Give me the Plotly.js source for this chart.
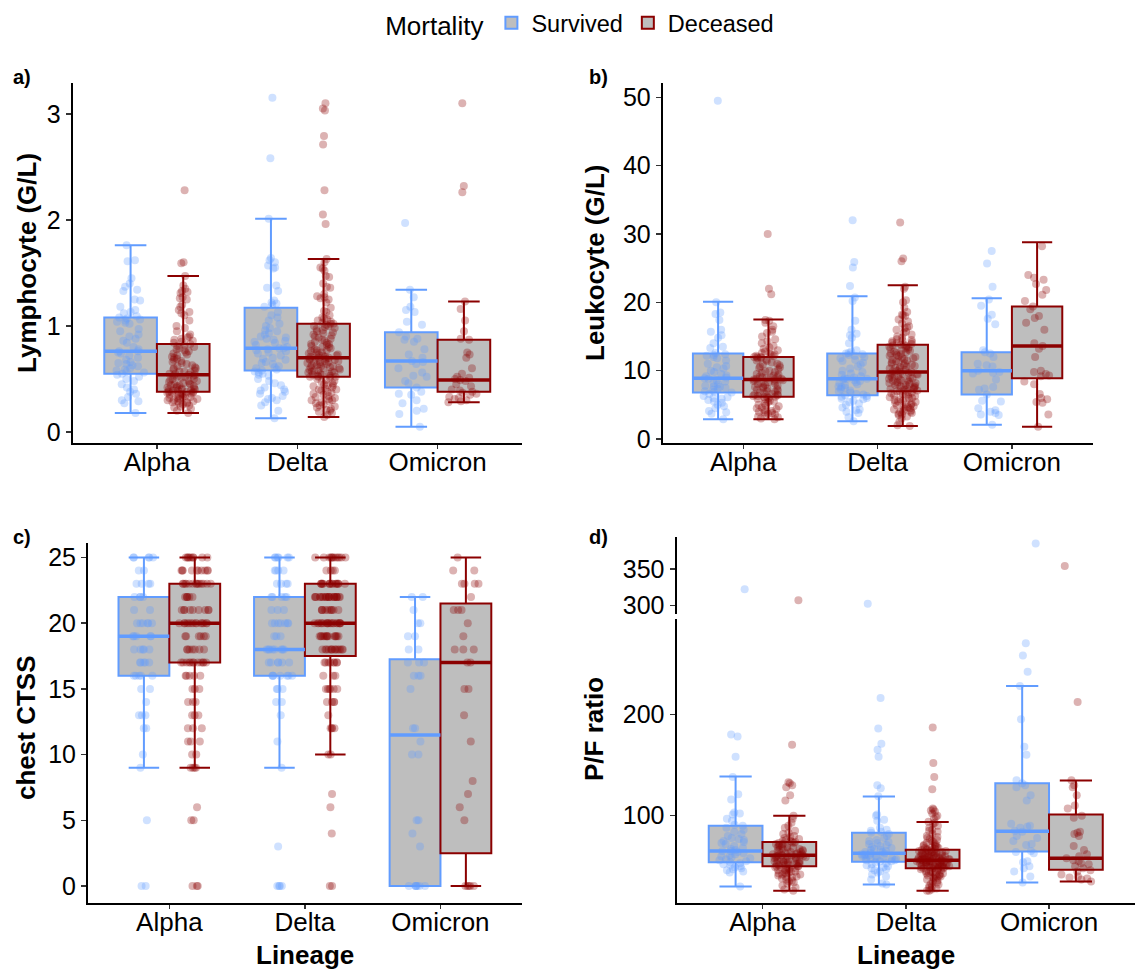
<!DOCTYPE html>
<html>
<head>
<meta charset="utf-8">
<script src="https://cdn.plot.ly/plotly-3.0.1.min.js"></script>
<style>html,body{margin:0;padding:0;background:#fff}#chart{width:1144px;height:973px}</style>
</head>
<body>
<div id="chart"></div>
<script>
// ---------------- DATA ----------------
const categories = ['Alpha', 'Delta', 'Omicron'];
const groups = ['Survived', 'Deceased'];

// Box statistics per lineage (Alpha, Delta, Omicron)
const lymSurvStats = {lower:[0.18,0.13,0.05], q1:[0.55,0.58,0.42], median:[0.76,0.79,0.67], q3:[1.08,1.17,0.94], upper:[1.76,2.01,1.34]};
const lymDecStats  = {lower:[0.18,0.14,0.28], q1:[0.38,0.52,0.38], median:[0.54,0.70,0.49], q3:[0.83,1.02,0.87], upper:[1.47,1.63,1.23]};
const leuSurvStats = {lower:[2.9,2.6,2.1], q1:[6.8,6.4,6.5], median:[8.9,8.8,10.0], q3:[12.5,12.5,12.7], upper:[20.1,20.9,20.6]};
const leuDecStats  = {lower:[2.9,1.9,1.8], q1:[6.2,7.0,8.9], median:[8.7,9.8,13.6], q3:[12.0,13.8,19.4], upper:[17.5,22.5,28.8]};
const ctSurvStats  = {lower:[9,9,0], q1:[16,16,0], median:[19,18,11.5], q3:[22,22,17.25], upper:[25,25,22]};
const ctDecStats   = {lower:[9,10,0], q1:[17,17.5,2.5], median:[20,20,17], q3:[23,23,21.5], upper:[25,25,25]};
const pfSurvStats  = {lower:[30,32,34], q1:[54,54.6,64.5], median:[65,63,84.6], q3:[90,83,132], upper:[138.5,118.8,228]};
const pfDecStats   = {lower:[26,26,35], q1:[50,48,46.7], median:[61,56,58], q3:[74,66.4,101], upper:[100,93.8,134.6]};

const lymAlphaS = [1.76,1.62,1.61,1.45,1.40,1.37,1.34,1.33,1.25,1.24,1.18,1.15,1.13,1.12,1.09,1.08,1.07,1.06,1.05,1.04,1.03,1.02,0.97,0.95,0.92,0.90,0.88,0.86,0.84,0.80,0.78,0.76,0.76,0.75,0.74,0.72,0.70,0.68,0.66,0.65,0.64,0.63,0.62,0.60,0.59,0.58,0.57,0.56,0.55,0.54,0.52,0.50,0.48,0.45,0.42,0.40,0.38,0.36,0.33,0.30,0.29,0.27,0.18];
const lymAlphaD = [2.28,1.60,1.59,1.47,1.38,1.35,1.33,1.32,1.31,1.27,1.26,1.25,1.20,1.18,1.15,1.13,1.12,1.10,1.05,1.00,0.98,0.95,0.92,0.90,0.89,0.88,0.87,0.86,0.85,0.84,0.83,
  0.82,0.81,0.80,0.79,0.78,0.77,0.76,0.75,0.74,0.73,0.72,0.71,0.70,0.69,0.68,0.67,0.66,0.65,0.64,0.63,0.62,0.61,0.60,0.60,0.59,0.58,0.57,0.57,0.56,0.55,0.55,0.54,
  0.54,0.53,0.53,0.52,0.52,0.51,0.50,0.50,0.49,0.48,0.48,0.47,0.46,0.46,0.45,0.45,0.44,0.44,0.43,0.43,0.42,0.42,0.41,0.41,0.40,0.40,0.40,0.39,0.39,0.39,0.38,0.38,
  0.38,0.37,0.37,0.37,0.36,0.36,0.36,0.35,0.35,0.34,0.34,0.33,0.33,0.32,0.32,0.31,0.31,0.30,0.30,0.29,0.29,0.28,0.28,0.27,0.27,0.26,0.25,0.24,0.23,0.22,0.20,0.18];
const lymDeltaS = [3.15,2.58,2.01,1.64,1.62,1.60,1.57,1.55,1.54,1.38,1.36,1.33,1.24,1.22,1.21,1.20,1.18,1.13,1.10,1.08,1.05,1.02,1.00,0.98,0.96,0.95,0.93,0.92,0.90,0.89,0.88,0.87,0.86,0.85,0.84,0.82,0.80,0.79,0.79,0.78,0.77,0.76,0.75,0.74,0.72,0.70,0.69,0.68,0.66,0.65,0.64,0.62,0.61,0.60,0.59,0.58,0.57,0.56,0.55,0.54,0.53,0.50,0.48,0.46,0.44,0.42,0.40,0.39,0.38,0.36,0.34,0.32,0.31,0.30,0.28,0.25,0.20,0.13];
const lymDeltaD = [3.10,3.05,3.03,2.79,2.71,2.28,2.05,1.96,1.63,1.60,1.55,1.54,1.52,1.47,1.46,1.40,1.37,1.36,1.30,1.28,1.27,1.26,1.25,1.22,1.17,1.14,1.13,1.10,1.08,1.07,1.06,1.05,1.04,1.03,1.02,1.02,1.01,
  1.00,1.00,0.99,0.98,0.97,0.96,0.95,0.94,0.93,0.92,0.91,0.90,0.89,0.88,0.87,0.86,0.85,0.84,0.83,0.83,0.82,0.81,0.80,0.80,0.79,0.78,0.77,0.77,0.76,0.75,0.75,0.74,0.73,0.73,0.72,0.72,0.71,0.71,0.70,0.70,
  0.70,0.69,0.69,0.68,0.68,0.67,0.67,0.66,0.66,0.65,0.65,0.64,0.64,0.63,0.63,0.62,0.62,0.61,0.61,0.60,0.60,0.59,0.59,0.58,0.58,0.57,0.57,0.56,0.56,0.55,0.55,0.54,0.54,0.53,0.53,0.52,0.52,
  0.52,0.51,0.50,0.49,0.48,0.47,0.46,0.45,0.44,0.44,0.43,0.42,0.41,0.40,0.40,0.39,0.38,0.37,0.36,0.35,0.34,0.33,0.32,0.31,0.30,0.30,0.29,0.28,0.27,0.26,0.25,0.24,0.23,0.22,0.21,0.20,0.19,0.18,0.16,0.14];
const lymOmicronS = [1.97,1.34,1.27,1.18,1.15,1.13,1.04,1.01,0.94,0.90,0.88,0.87,0.85,0.78,0.73,0.70,0.67,0.66,0.64,0.60,0.56,0.53,0.52,0.48,0.46,0.42,0.38,0.36,0.35,0.30,0.27,0.22,0.20,0.17,0.05];
const lymOmicronD = [3.10,2.32,2.26,1.23,1.16,1.05,0.95,0.88,0.87,0.75,0.73,0.70,0.60,0.55,0.52,0.51,0.50,0.49,0.48,0.45,0.43,0.40,0.39,0.38,0.37,0.36,0.35,0.33,0.32,0.31,0.30,0.29,0.28];

const leuAlphaS = [49.5,20.0,18.5,18.3,17.4,16.0,15.7,15.2,14.8,14.0,13.5,13.3,12.6,12.4,12.3,12.2,12.0,11.8,11.5,11.0,10.7,10.5,10.3,10.0,9.8,9.5,9.3,9.2,9.0,8.9,8.8,8.6,8.4,8.2,8.0,7.8,7.7,7.6,7.5,7.3,7.2,7.0,6.9,6.8,6.6,6.3,6.1,6.0,5.9,5.7,5.5,5.3,5.0,4.8,4.5,4.1,3.9,3.7,2.9];
const leuAlphaD = [30.0,22.0,21.2,17.4,17.3,17.0,16.5,16.0,15.7,15.5,15.0,14.6,14.3,14.0,13.6,13.4,13.2,13.0,12.8,12.6,12.5,12.4,12.3,12.2,12.1,12.0,12.0,12.0,
  11.9,11.8,11.6,11.5,11.4,11.2,11.0,10.9,10.8,10.6,10.5,10.4,10.2,10.0,9.9,9.8,9.7,9.5,9.4,9.3,9.2,9.1,9.0,9.0,8.9,8.8,8.8,8.7,8.7,
  8.6,8.5,8.4,8.3,8.2,8.1,8.0,7.9,7.8,7.7,7.6,7.5,7.4,7.3,7.2,7.1,7.0,6.9,6.8,6.7,6.6,6.5,6.5,6.4,6.3,6.3,6.2,6.2,
  6.1,6.0,5.9,5.8,5.6,5.5,5.4,5.2,5.0,4.9,4.8,4.6,4.5,4.4,4.2,4.1,4.0,3.9,3.8,3.7,3.6,3.5,3.3,3.2,3.0,2.9];
const leuDeltaS = [32.0,25.9,25.1,22.4,20.7,20.2,17.3,16.0,15.4,15.2,14.8,14.0,13.0,12.8,12.6,12.5,12.4,12.3,12.2,12.0,11.8,11.6,11.4,11.2,10.9,10.6,10.3,10.0,9.8,9.6,9.4,9.2,9.0,8.9,8.8,8.8,8.7,8.6,8.5,8.3,8.2,8.0,7.9,7.7,7.6,7.5,7.3,7.1,7.0,6.8,6.6,6.5,6.4,6.3,6.2,6.0,5.9,5.8,5.6,5.4,5.2,5.0,4.6,4.3,4.2,4.0,3.8,3.2,2.6];
const leuDeltaD = [31.7,26.4,26.0,22.3,22.0,20.3,20.0,19.2,18.6,18.2,18.1,18.0,17.5,17.2,16.9,16.5,16.3,16.2,16.0,15.7,15.5,15.3,15.0,14.8,14.6,14.5,14.4,14.3,14.2,14.1,14.0,13.9,13.8,13.8,
  13.7,13.6,13.5,13.4,13.3,13.2,13.1,13.0,12.9,12.8,12.7,12.6,12.5,12.4,12.3,12.2,12.1,12.0,11.9,11.8,11.7,11.6,11.5,11.4,11.3,11.2,11.1,11.0,10.9,10.8,10.7,10.6,10.5,10.4,10.3,10.2,10.1,10.0,9.9,9.8,
  9.8,9.7,9.6,9.5,9.5,9.4,9.3,9.2,9.1,9.0,9.0,8.9,8.8,8.7,8.6,8.6,8.5,8.4,8.3,8.2,8.2,8.1,8.0,7.9,7.9,7.8,7.7,7.6,7.6,7.5,7.4,7.3,7.3,7.2,7.1,7.0,7.0,
  6.9,6.8,6.7,6.6,6.5,6.4,6.3,6.2,6.1,6.0,5.9,5.8,5.7,5.6,5.5,5.4,5.3,5.2,5.1,5.0,4.9,4.8,4.7,4.6,4.5,4.4,4.3,4.2,4.1,4.0,3.9,3.8,3.7,3.6,3.5,3.3,3.0,2.5,2.0,1.9];
const leuOmicronS = [27.5,25.7,22.3,20.4,19.5,18.2,17.6,16.8,13.0,12.7,12.5,12.0,11.0,10.8,10.6,10.0,9.8,9.7,9.6,8.7,7.6,7.4,7.2,6.5,5.6,5.5,4.5,4.2,4.0,3.8,3.6,3.5,2.1];
const leuOmicronD = [28.2,24.0,23.6,23.3,22.7,21.8,21.1,20.2,19.4,19.0,18.0,17.7,17.0,16.0,14.0,13.6,13.2,12.0,10.0,9.8,9.5,9.3,9.2,8.4,8.0,6.6,6.0,5.8,5.4,5.3,3.6,1.8];

const ctAlphaS = [25,25,25,25,25,24,24,23,23,23,23,22,22,22,22,21,21,20,20,20,20,20,20,19,19,19,19,19,18,18,18,18,18,17,17,17,17,17,16,16,16,16,16,15,15,14,13,13,13,12,12,10,9,5,0,0];
const ctAlphaD = [25,25,25,25,25,25,25,25,25,24,24,24,24,24,24,24,24,24,24,23,23,23,23,23,23,23,23,23,23,23,23,23,23,22,22,22,22,22,22,21,21,21,21,21,21,21,21,21,
  20,20,20,20,20,20,20,20,20,20,20,20,20,20,19,19,19,19,19,19,18,18,18,18,18,18,18,17,17,17,17,17,17,17,17,17,17,17,17,16,16,16,16,16,15,15,15,14,14,14,13,13,13,12,12,12,11,11,11,10,10,9,9,9,9,6,5,5,0,0,0];
const ctDeltaS = [25,25,25,25,25,25,24,24,24,24,23,23,23,23,22,22,22,22,22,21,21,21,20,20,20,20,20,20,20,19,19,19,18,18,18,18,18,18,18,18,17,17,17,17,17,17,16,16,16,16,16,16,16,15,15,15,14,14,13,11,9,3,0,0,0,0];
const ctDeltaD = [25,25,25,25,25,25,25,25,25,25,25,25,24,24,24,24,23,23,23,23,23,23,23,23,23,23,23,23,23,23,23,23,
  22,22,22,22,22,22,22,22,22,22,22,22,22,22,22,22,22,22,22,22,22,22,21,21,21,21,21,21,21,21,21,21,
  20,20,20,20,20,20,20,20,20,20,20,20,20,20,20,20,20,20,20,20,19,19,19,19,19,19,19,19,19,19,19,19,19,19,
  18,18,18,18,18,18,18,18,18,18,18,18,18,18,17,17,17,17,17,17,17,17,16,16,16,15,15,15,15,15,15,14,14,14,14,13,12,12,12,12,10,10,7,6,4,0,0];
const ctOmicronS = [22,22,21,20,20,19,19,18,18,17,17,17,16,16,16,15,12,12,11,10,10,5,5,4,3,0,0,0,0,0,0,0];
const ctOmicronD = [25,24,24,23,23,23,23,22,21,21,21,20,19,18,18,18,17,17,15,15,13,11,8,7,6,5,0,0,0,0,0];

const pfAlphaS = [322,180,178,158,138,121,116,103,102,101,97,95,91,90,88,86,84,82,80,78,77,76,75,74,73,72,70,68,67,66,65,65,64,63,62,61,60,59,58,57,56,55,54,53,52,51,50,49,48,47,46,45,44,30];
const pfAlphaD = [307,170,133,132,130,128,120,115,100,97,93,90,88,85,83,82,80,79,78,77,76,75,75,74,74,
  73,73,72,72,71,70,70,69,69,68,68,67,67,66,66,65,65,64,64,63,63,63,62,62,62,61,61,61,61,
  60,60,60,59,59,59,58,58,57,57,57,56,56,55,55,55,54,54,53,53,53,52,52,51,51,51,50,50,50,
  49,49,48,48,47,47,46,46,45,45,44,44,43,43,42,42,41,40,40,39,38,37,36,35,34,33,31,29,27,26];
const pfDeltaS = [302,216,186,171,165,158,130,127,119,101,100,96,95,88,86,85,84,83,82,80,78,76,75,74,73,72,71,70,69,68,67,66,66,65,64,64,63,63,62,62,61,61,60,60,59,59,58,58,57,57,56,56,55,55,54,53,52,51,50,49,48,47,46,45,44,42,40,37,33,32];
const pfDeltaD = [187,152,138,126,107,106,105,104,102,100,99,97,94,93,92,90,88,86,85,84,82,80,79,78,77,76,75,74,73,72,71,71,70,70,69,69,68,68,67,67,66,66,
  66,65,65,65,64,64,64,63,63,63,62,62,62,61,61,61,60,60,60,60,59,59,59,59,58,58,58,58,57,57,57,57,57,56,56,56,56,56,
  55,55,55,55,54,54,54,54,53,53,53,53,52,52,52,52,51,51,51,51,50,50,50,50,49,49,49,49,48,48,48,48,
  47,47,46,46,45,45,44,44,43,43,42,42,41,41,40,40,39,39,38,37,36,35,34,33,32,31,30,29,28,27,26,26];
const pfOmicronS = [385,270,258,242,228,195,168,160,135,132,130,128,120,115,92,90,89,88,85,84,80,78,75,72,71,65,64,63,55,54,50,48,45,40,34];
const pfOmicronD = [354,212,135,130,128,120,110,107,100,98,84,83,82,80,70,66,62,60,58,56,55,53,52,50,48,46,45,42,40,39,38,37,35];

// ---------------- STYLE ----------------
const FONT = 'Liberation Sans, Arial, Helvetica, sans-serif';
const survColor = '#619CFF';
const decColor = '#8B0000';
const boxFill = '#BEBEBE';
const survPtColor = 'rgba(97,156,255,0.30)';
const decPtColor = 'rgba(139,0,0,0.30)';
const DODGE = 0.1875, BOXW = 0.375;

const traces = [];

function boxTrace(stats, offset, color, name, xa, ya, showleg) {
  return {
    type: 'box', name: name, legendgroup: name, showlegend: showleg,
    x: categories.map((c, i) => i + offset),
    q1: stats.q1, median: stats.median, q3: stats.q3,
    lowerfence: stats.lower, upperfence: stats.upper,
    width: BOXW, whiskerwidth: 0.6,
    fillcolor: boxFill, line: {color: color, width: 2},
    boxpoints: false, hoverinfo: 'skip',
    xaxis: xa, yaxis: ya
  };
}
function medianTrace(stats, offset, color, xa, ya) {
  const xs = [], ys = [];
  categories.forEach((c, i) => {
    xs.push(i + offset - BOXW / 2, i + offset + BOXW / 2, null);
    ys.push(stats.median[i], stats.median[i], null);
  });
  return {type: 'scatter', mode: 'lines', x: xs, y: ys, line: {color: color, width: 3.5},
    showlegend: false, hoverinfo: 'skip', xaxis: xa, yaxis: ya};
}
function pointsTrace(seriesList, offset, color, xa, ya, filterFn) {
  const xs = [], ys = [];
  seriesList.forEach((arr, i) => {
    arr.forEach(v => { if (!filterFn || filterFn(v)) { xs.push(i + offset); ys.push(v); } });
  });
  return {
    type: 'box', x: xs, y: ys, width: BOXW,
    boxpoints: 'all', jitter: 0.65, pointpos: 0,
    marker: {color: color, size: 8, line: {width: 0}},
    line: {color: 'rgba(0,0,0,0)', width: 0}, fillcolor: 'rgba(0,0,0,0)',
    showlegend: false, hoverinfo: 'skip', xaxis: xa, yaxis: ya
  };
}

function addPanel(xa, ya, sStats, dStats, sPts, dPts, showleg, cut, yaUp) {
  traces.push(boxTrace(sStats, -DODGE, survColor, 'Survived', xa, ya, showleg));
  traces.push(boxTrace(dStats, DODGE, decColor, 'Deceased', xa, ya, showleg));
  traces.push(medianTrace(sStats, -DODGE, survColor, xa, ya));
  traces.push(medianTrace(dStats, DODGE, decColor, xa, ya));
  const low = cut ? (v => v < cut) : null;
  traces.push(pointsTrace(sPts, -DODGE, survPtColor, xa, ya, low));
  traces.push(pointsTrace(dPts, DODGE, decPtColor, xa, ya, low));
  if (cut) {
    traces.push(pointsTrace(sPts, -DODGE, survPtColor, xa, yaUp, v => v >= cut));
    traces.push(pointsTrace(dPts, DODGE, decPtColor, xa, yaUp, v => v >= cut));
  }
}

addPanel('x', 'y', lymSurvStats, lymDecStats, [lymAlphaS, lymDeltaS, lymOmicronS], [lymAlphaD, lymDeltaD, lymOmicronD], true);
addPanel('x2', 'y2', leuSurvStats, leuDecStats, [leuAlphaS, leuDeltaS, leuOmicronS], [leuAlphaD, leuDeltaD, leuOmicronD], false);
addPanel('x3', 'y3', ctSurvStats, ctDecStats, [ctAlphaS, ctDeltaS, ctOmicronS], [ctAlphaD, ctDeltaD, ctOmicronD], false);
addPanel('x4', 'y4', pfSurvStats, pfDecStats, [pfAlphaS, pfDeltaS, pfOmicronS], [pfAlphaD, pfDeltaD, pfOmicronD], false, 290, 'y5');

// ---------------- LAYOUT ----------------
const W = 1144, H = 973;
const px = v => v / W, py = v => 1 - v / H;

function xAxis(d0, d1, anchor) {
  return {domain: [px(d0), px(d1)], anchor: anchor, range: [-0.6, 2.6],
    tickmode: 'array', tickvals: categories.map((c, i) => i), ticktext: categories,
    showline: true, linecolor: '#000', linewidth: 2, mirror: false,
    ticks: 'outside', ticklen: 4, tickwidth: 1.5, tickcolor: '#333',
    ticklabelstandoff: -9,
    showgrid: false, zeroline: false, automargin: false,
    tickfont: {family: FONT, size: 26, color: '#000'}, fixedrange: true};
}
function yAxis(top, bottom, anchor, range, tickvals) {
  return {domain: [py(bottom), py(top)], anchor: anchor, range: range,
    tickmode: 'array', tickvals: tickvals,
    showline: true, linecolor: '#000', linewidth: 2,
    ticks: 'outside', ticklen: 5, tickwidth: 1.5, tickcolor: '#333',
    showgrid: false, zeroline: false, automargin: false,
    tickfont: {family: FONT, size: 25, color: '#000'}, fixedrange: true};
}

const ann = (text, x, y, opts) => Object.assign({text: text, x: px(x), y: py(y), xref: 'paper', yref: 'paper',
  showarrow: false, xanchor: 'center', yanchor: 'middle', font: {family: FONT, size: 26, color: '#000'}}, opts || {});
const labFont = {family: FONT, size: 20, color: '#000'};

const layout = {
  width: W, height: H,
  margin: {l: 0, r: 0, t: 0, b: 0},
  paper_bgcolor: '#fff', plot_bgcolor: '#fff',
  showlegend: true,
  font: {family: FONT, color: '#000'},
  legend: {orientation: 'h', x: 0.508, xanchor: 'center', y: py(23), yanchor: 'middle',
    title: {text: 'Mortality', side: 'left', font: {family: FONT, size: 26, color: '#000'}},
    font: {family: FONT, size: 23.5, color: '#000'}, itemwidth: 30,
    tracegroupgap: 0, bgcolor: 'rgba(0,0,0,0)'},
  xaxis: xAxis(72.7, 521.8, 'y'),
  yaxis: yAxis(83, 443, 'x', [-0.104, 3.29], [0, 1, 2, 3]),
  xaxis2: xAxis(662.7, 1092.5, 'y2'),
  yaxis2: yAxis(83, 443, 'x2', [-0.585, 52.1], [0, 10, 20, 30, 40, 50]),
  xaxis3: xAxis(88, 521.8, 'y3'),
  yaxis3: yAxis(543, 903, 'x3', [-1.29, 26.1], [0, 5, 10, 15, 20, 25]),
  xaxis4: xAxis(676.5, 1135, 'y4'),
  yaxis4: yAxis(619, 903, 'x4', [13.8, 294], [100, 200]),
  yaxis5: yAxis(537, 614, 'x4', [288, 394], [300, 350]),
  annotations: [
    ann('<b>a)</b>', 22, 77, {font: labFont}),
    ann('<b>b)</b>', 598, 77, {font: labFont}),
    ann('<b>c)</b>', 22, 537, {font: labFont}),
    ann('<b>d)</b>', 598, 537, {font: labFont}),
    ann('<b>Lymphocyte (G/L)</b>', 27, 263, {textangle: -90}),
    ann('<b>Leukocyte (G/L)</b>', 595, 263, {textangle: -90}),
    ann('<b>chest CTSS</b>', 26, 728, {textangle: -90}),
    ann('<b>P/F ratio</b>', 594, 729, {textangle: -90}),
    ann('<b>Lineage</b>', 305, 955),
    ann('<b>Lineage</b>', 906, 955)
  ]
};

Plotly.newPlot('chart', traces, layout, {displayModeBar: false, staticPlot: true});
</script>
</body>
</html>
